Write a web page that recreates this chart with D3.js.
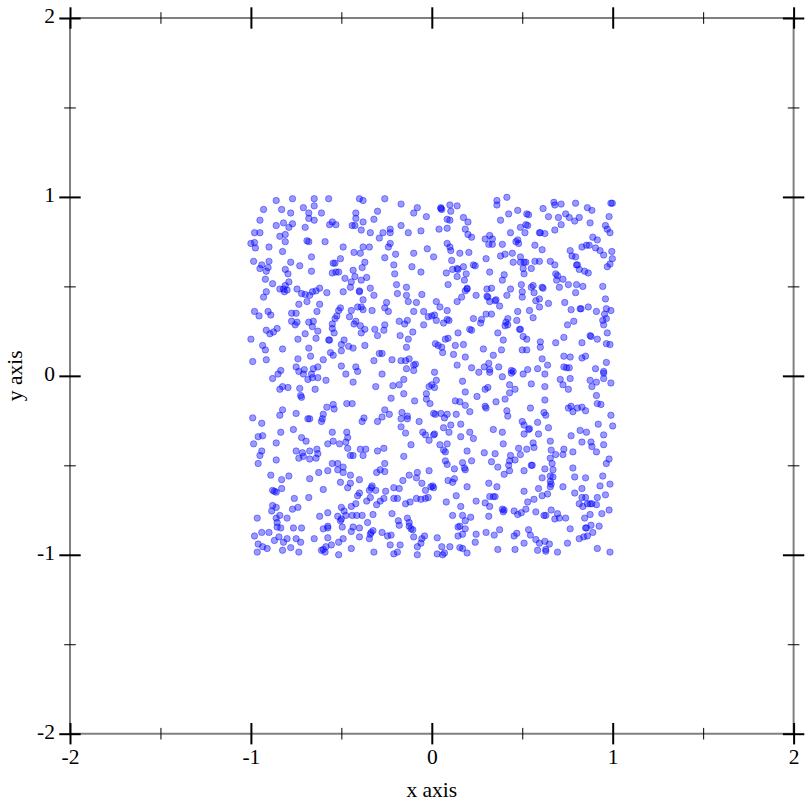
<!DOCTYPE html>
<html><head><meta charset="utf-8"><title>Scatter</title>
<script src="https://cdn.jsdelivr.net/npm/d3@7/dist/d3.min.js"></script>
<style>html,body{margin:0;padding:0;background:#fff}svg{display:block}</style></head>
<body><svg id="c" width="812" height="812"></svg>
<script>
const majorTicks=[-2,-1,0,1,2];
const minorTicks=[-1.5,-0.5,0.5,1.5];
const xLabel="x axis", yLabel="y axis";
const topLeft=[[-.86,.98],[-.77,.99],[-.65,.99],[-.57,.99],[-.4,.99],[-.38,.98],[-.26,.99],[-.65,.95],[-.17,.96],[-.93,.93],[-.83,.93],[-.78,.91],[-.71,.94],[-.68,.91],[-.61,.91],[-.42,.91],[-.3,.92],[-.08,.94],[-.1,.91],[-.03,.89],[-.68,.88],[-.65,.87],[-.42,.88],[-.38,.86],[-.32,.875],[-.95,.87],[-.86,.84],[-.82,.855],[-.79,.83],[-.77,.85],[-.7,.83],[-.565,.845],[-.55,.86],[-.53,.845],[-.44,.84],[-.425,.84],[-.39,.815],[-.17,.84],[-.98,.8],[-.95,.8],[-.81,.79],[-.84,.78],[-.34,.8],[-.27,.8],[-.23,.82],[-.23,.8],[-.13,.8],[-.06,.81],[-.29,.77],[-.81,.75],[-.69,.755],[-.68,.75],[-.59,.75],[-1,.74],[-.98,.745],[-.975,.715],[-.9,.72],[-.825,.695],[-.49,.72],[-.38,.72],[-.345,.72],[-.23,.74],[-.24,.72],[-.025,.71],[-.43,.69],[-.395,.685],[-.665,.665],[-.505,.655],[-.26,.66],[-.2,.68],[-.1,.685],[-.985,.64],[-.9,.64],[-.78,.635],[-.73,.615],[-.535,.63],[-.545,.63],[-.37,.635],[-.385,.605],[-.435,.59],[-.21,.62],[-.11,.61],[-.06,.58],[-.94,.62],[-.95,.6],[-.905,.605],[-.915,.585],[-.81,.595],[-.795,.57],[-.665,.585],[-.55,.575],[-.53,.58],[-.515,.58],[-.205,.57],[-.92,.54],[-.88,.515],[-.48,.545],[-.425,.555],[-.36,.55],[-.445,.525],[-.39,.535],[-.79,.525],[-.195,.51],[-.14,.495],[-.84,.485],[-.82,.485],[-.81,.505],[-.8,.48],[-.815,.47],[-.745,.485],[-.72,.46],[-.7,.455],[-.675,.45],[-.66,.47],[-.64,.475],[-.62,.49],[-.58,.465],[-.49,.47],[-.45,.495],[-.4,.475],[-.4,.47],[-.34,.49],[-.32,.45],[-.915,.47],[-.93,.44],[-.19,.46],[-.14,.45],[-.055,.455],[-.69,.415],[-.735,.4],[-.62,.4],[-.38,.425],[-.25,.41],[-.13,.415],[-.085,.41],[-.26,.38],[-.24,.36],[-.41,.385],[-.39,.385],[-.38,.37],[-.33,.365],[-.98,.36],[-.905,.36],[-.955,.335],[-.89,.34],[-.775,.35],[-.75,.35],[-.635,.36],[-.505,.38],[-.515,.365],[-.445,.365],[-.1,.36],[-.045,.36],[-.02,.33],[-.525,.335],[-.535,.32],[-.455,.33],[-.775,.305],[-.745,.3],[-.755,.285],[-.68,.3],[-.655,.305],[-.66,.275],[-.63,.25],[-.55,.29],[-.55,.265],[-.54,.24],[-.42,.305],[-.43,.29],[-.395,.28],[-.37,.26],[-.39,.24],[-.315,.26],[-.26,.285],[-.265,.255],[-.3,.225],[-.18,.305],[-.15,.29],[-.135,.31],[-.045,.285],[-.105,.245],[-.915,.255],[-.895,.235],[-.875,.245],[-.855,.265],[-.7,.235],[-.74,.205],[-.64,.21],[-1,.205],[-.57,.2],[-.565,.2],[-.485,.2],[-.5,.175],[-.175,.225],[-.13,.205],[-.935,.17],[-.92,.145],[-.825,.15],[-.68,.155],[-.46,.165],[-.435,.155],[-.37,.17],[-.5,.14],[-.14,.16],[-.29,.125],[-.275,.125],[-.56,.13],[-.545,.115],[-.67,.11],[-.74,.095],[-.6,.09],[-.99,.08],[-.915,.09],[-.32,.085],[-.22,.09],[-.17,.085],[-.145,.085],[-.125,.095],[-.09,.065],[-.1,.06],[-.5,.055],[-.75,.05],[-.835,.03],[-.85,.01],[-.735,.025],[-.705,.035],[-.655,.04],[-.63,.05],[-.42,.05],[-.41,.025],[-.475,.01],[-.275,.01],[-.14,.04],[-.1,.03],[-.71,.01],[-.665,.01]];
const topRight=[[.05,.94],[.055,.93],[.05,.935],[.1,.955],[.105,.92],[.14,.95],[.085,.875],[.1,.87],[.04,.82],[.085,.825],[.175,.885],[.2,.86],[.185,.82],[.2,.79],[.22,.775],[.36,.98],[.36,.955],[.415,.998],[.38,.87],[.425,.905],[.475,.925],[.525,.905],[.535,.9],[.615,.935],[.675,.97],[.68,.955],[.715,.96],[.795,.965],[.86,.94],[.885,.925],[.99,.965],[.998,.965],[.645,.89],[.7,.885],[.74,.905],[.76,.885],[.79,.865],[.815,.885],[.875,.855],[.98,.89],[.715,.845],[.68,.815],[.96,.84],[.97,.82],[.985,.8],[.49,.83],[.515,.8],[.53,.84],[.52,.845],[.435,.8],[.595,.8],[.6,.8],[.625,.795],[.32,.785],[.295,.765],[.335,.765],[.335,.735],[.315,.735],[.39,.735],[.475,.76],[.465,.75],[.48,.74],[.57,.73],[.61,.705],[.085,.74],[.1,.72],[.105,.7],[.155,.685],[.205,.69],[.01,.665],[.3,.655],[.38,.67],[.405,.68],[.445,.685],[.49,.665],[.765,.7],[.83,.72],[.855,.73],[.87,.73],[.89,.775],[.915,.76],[.905,.715],[.93,.7],[.95,.675],[.995,.695],[.998,.655],[.775,.67],[.795,.665],[.11,.645],[.45,.635],[.49,.635],[.51,.635],[.52,.635],[.505,.6],[.55,.6],[.57,.64],[.595,.64],[.655,.64],[.68,.62],[.8,.62],[.805,.62],[.815,.595],[.845,.585],[.865,.575],[.97,.61],[.985,.625],[.08,.575],[.115,.595],[.14,.6],[.145,.595],[.175,.61],[.23,.62],[.24,.615],[.32,.58],[.19,.57],[.14,.555],[.18,.535],[.4,.565],[.39,.535],[.51,.57],[.685,.57],[.695,.56],[.725,.54],[.69,.535],[.705,.495],[.755,.51],[.8,.51],[.835,.5],[.945,.5],[.795,.465],[.09,.51],[.195,.49],[.195,.485],[.185,.475],[.305,.485],[.33,.49],[.305,.445],[.31,.44],[.435,.485],[.415,.45],[.35,.42],[.355,.425],[.375,.39],[.495,.51],[.5,.47],[.5,.44],[.55,.495],[.56,.505],[.565,.465],[.61,.495],[.615,.49],[.595,.43],[.575,.42],[.595,.385],[.645,.405],[.025,.415],[.045,.385],[.085,.365],[.165,.44],[.14,.415],[.245,.45],[.32,.415],[.735,.41],[.77,.37],[.82,.375],[.825,.375],[.865,.385],[.91,.36],[.96,.43],[.965,.375],[.99,.365],[.955,.345],[.965,.32],[.945,.31],[.95,.285],[.015,.34],[.025,.31],[0,.335],[.065,.295],[.085,.315],[.095,.31],[.23,.32],[.275,.315],[.27,.295],[.3,.345],[.33,.345],[.42,.32],[.475,.36],[.54,.365],[.56,.325],[.47,.31],[.41,.3],[.42,.285],[.405,.28],[.485,.26],[.49,.26],[.75,.285],[.785,.305],[.145,.24],[.21,.26],[.22,.255],[.365,.24],[.395,.2],[.505,.22],[.525,.205],[.075,.205],[.09,.21],[.02,.18],[.035,.17],[.055,.16],[.06,.13],[.13,.17],[.175,.175],[.12,.12],[.185,.105],[.285,.15],[.385,.145],[.73,.215],[.685,.185],[.83,.185],[.875,.225],[.88,.22],[.915,.205],[.97,.24],[.965,.18],[.985,.175],[.6,.19],[.6,.16],[.5,.145],[.525,.145],[.34,.115],[.73,.11],[.765,.105],[.83,.1],[.85,.11],[.61,.095],[.965,.075],[.14,.06],[.22,.045],[.315,.07],[.29,.05],[.32,.035],[.37,.05],[.44,.03],[.45,.025],[.53,.035],[.585,.04],[.64,.06],[.73,.05],[.745,.045],[.76,.045],[.905,.04],[.95,.025],[.26,.02],[.32,.02],[.015,.02],[.44,.015],[.505,.01],[.625,.01],[.95,.015]];
const bottomLeft=[[-.88,-.015],[-.685,-.02],[-.66,-.01],[-.63,-.01],[-.585,-.025],[-.435,-.035],[-.31,-.06],[-.215,-.055],[-.18,-.05],[-.155,-.02],[-.84,-.075],[-.825,-.06],[-.795,-.065],[-.73,-.07],[-.645,-.075],[-.725,-.11],[-.72,-.12],[-.225,-.125],[-.155,-.1],[-.095,-.14],[-.03,-.1],[-.03,-.13],[-.015,-.06],[-.01,-.155],[-.47,-.155],[-.44,-.155],[-.58,-.175],[-.545,-.16],[-.54,-.185],[-.26,-.19],[-.825,-.19],[-.84,-.22],[-.75,-.21],[-.99,-.235],[-.94,-.265],[-.685,-.24],[-.675,-.24],[-.6,-.215],[-.605,-.24],[-.61,-.255],[-.375,-.235],[-.385,-.255],[-.3,-.255],[-.275,-.23],[-.235,-.215],[-.165,-.205],[-.17,-.24],[-.135,-.225],[-.135,-.24],[-.07,-.255],[-.17,-.285],[-.765,-.3],[-.835,-.315],[-.55,-.315],[-.47,-.315],[-.465,-.345],[-.145,-.32],[-.05,-.315],[-.035,-.33],[-.015,-.36],[-.96,-.34],[-.935,-.335],[-.985,-.38],[-.86,-.375],[-.72,-.345],[-.695,-.365],[-.575,-.38],[-.545,-.365],[-.51,-.38],[-.475,-.37],[-.115,-.385],[-.94,-.42],[-.95,-.445],[-.96,-.49],[-.86,-.47],[-.75,-.42],[-.715,-.43],[-.71,-.45],[-.735,-.46],[-.675,-.42],[-.635,-.41],[-.63,-.435],[-.64,-.46],[-.675,-.465],[-.465,-.405],[-.45,-.445],[-.435,-.445],[-.38,-.445],[-.395,-.41],[-.365,-.41],[-.3,-.42],[-.265,-.405],[-.155,-.45],[-.55,-.49],[-.52,-.49],[-.49,-.51],[-.52,-.525],[-.49,-.54],[-.575,-.53],[-.625,-.54],[-.26,-.49],[-.285,-.525],[-.26,-.535],[-.305,-.54],[-.45,-.555],[-.89,-.555],[-.79,-.56],[-.83,-.58],[-.675,-.575],[-.4,-.58],[-.505,-.595],[-.45,-.6],[-.125,-.555],[-.08,-.54],[-.085,-.57],[-.015,-.53],[-.16,-.585],[-.055,-.6],[-.465,-.625],[-.33,-.615],[-.31,-.64],[-.345,-.64],[-.335,-.625],[-.6,-.635],[-.83,-.63],[-.88,-.64],[-.87,-.645],[-.86,-.65],[-.21,-.625],[-.18,-.63],[-.255,-.645],[-.005,-.62],[-.035,-.64],[-.4,-.655],[-.41,-.67],[-.68,-.68],[-.76,-.685],[-.34,-.68],[-.36,-.7],[-.265,-.685],[-.285,-.7],[-.21,-.685],[-.19,-.685],[-.305,-.72],[-.085,-.685],[-.06,-.69],[-.035,-.685],[-.02,-.68],[-.12,-.705],[-.145,-.715],[-.42,-.715],[-.445,-.73],[-.74,-.735],[-.77,-.745],[-.88,-.725],[-.86,-.735],[-.885,-.755],[-.5,-.735],[-.485,-.755],[-.575,-.765],[-.62,-.785],[-.325,-.775],[-.22,-.77],[-.84,-.78],[-.86,-.795],[-.8,-.795],[-.965,-.795],[-.52,-.785],[-.5,-.8],[-.475,-.78],[-.44,-.78],[-.415,-.78],[-.385,-.78],[-.505,-.81],[-.355,-.82],[-.185,-.81],[-.18,-.835],[-.135,-.795],[-.125,-.82],[-.125,-.84],[-.855,-.82],[-.855,-.845],[-.835,-.85],[-.765,-.85],[-.72,-.85],[-.495,-.845],[-.575,-.84],[-.575,-.85],[-.6,-.855],[-.435,-.845],[-.4,-.85],[-.445,-.87],[-.325,-.865],[-.335,-.875],[-.275,-.875],[-.245,-.895],[-.225,-.89],[-.115,-.855],[-.105,-.86],[-.1,-.9],[-.98,-.895],[-.94,-.875],[-.9,-.875],[-.845,-.9],[-.87,-.92],[-.8,-.91],[-.82,-.93],[-.75,-.91],[-.725,-.93],[-.65,-.91],[-.575,-.905],[-.49,-.91],[-.515,-.93],[-.4,-.9],[-.34,-.885],[-.345,-.91],[-.04,-.895],[-.055,-.91],[-.06,-.935],[-.96,-.94],[-.935,-.955],[-.91,-.965],[-.965,-.985],[-.825,-.975],[-.78,-.96],[-.735,-.985],[-.555,-.945],[-.585,-.955],[-.6,-.97],[-.61,-.975],[-.59,-.985],[-.515,-1],[-.445,-.965],[-.32,-.985],[-.23,-.945],[-.175,-.945],[-.08,-.955],[-.21,-.995],[-.19,-.985],[-.08,-1]];
const bottomRight=[[.17,-.03],[.025,-.025],[.015,-.065],[0,-.05],[.185,-.09],[.295,-.075],[.31,-.065],[.25,-.115],[.39,-.005],[.43,-.05],[.46,-.075],[.43,-.095],[.55,-.045],[.625,-.06],[.71,-.02],[.765,-.015],[.725,-.05],[.755,-.075],[.875,-.025],[.91,-.035],[.885,-.06],[.95,-.015],[.99,-.04],[.405,-.13],[.355,-.145],[.625,-.135],[.91,-.11],[.915,-.155],[.935,-.16],[.13,-.14],[.155,-.145],[.185,-.165],[.295,-.17],[.3,-.18],[.415,-.195],[.42,-.225],[.545,-.18],[.755,-.18],[.77,-.17],[.78,-.2],[.805,-.18],[.83,-.175],[.85,-.195],[.21,-.2],[.62,-.205],[.63,-.22],[.99,-.22],[.01,-.21],[.02,-.215],[.05,-.21],[.07,-.235],[.085,-.215],[.135,-.215],[.585,-.26],[.5,-.255],[.51,-.275],[.535,-.3],[.54,-.295],[.645,-.29],[.92,-.27],[1,-.28],[.065,-.29],[.105,-.275],[.16,-.27],[.095,-.315],[.34,-.3],[.39,-.315],[.51,-.325],[.59,-.325],[.82,-.305],[.855,-.315],[.21,-.315],[.16,-.34],[.23,-.35],[.01,-.33],[.015,-.325],[.77,-.335],[.95,-.33],[.83,-.37],[.88,-.37],[.885,-.395],[.95,-.385],[.655,-.365],[.395,-.38],[.045,-.385],[.085,-.38],[.065,-.415],[.075,-.425],[.56,-.375],[.525,-.41],[.565,-.4],[.48,-.405],[.49,-.44],[.66,-.415],[.73,-.41],[.685,-.44],[.725,-.44],[.78,-.425],[.91,-.425],[.195,-.42],[.29,-.43],[.35,-.435],[.435,-.445],[.655,-.46],[.98,-.465],[.965,-.49],[.075,-.475],[.085,-.495],[.17,-.485],[.33,-.48],[.43,-.475],[.46,-.47],[.425,-.5],[.365,-.51],[.665,-.49],[.125,-.52],[.18,-.515],[.185,-.525],[.22,-.475],[.55,-.5],[.555,-.5],[.51,-.53],[.625,-.52],[.67,-.525],[.43,-.53],[.4,-.55],[.78,-.515],[.67,-.565],[.655,-.56],[.61,-.57],[.79,-.565],[.85,-.57],[.945,-.56],[.09,-.585],[.125,-.575],[.115,-.595],[.315,-.6],[.36,-.62],[.655,-.59],[.66,-.605],[.655,-.62],[.93,-.615],[.985,-.605],[.195,-.62],[.005,-.615],[.01,-.625],[.725,-.62],[.59,-.63],[.83,-.63],[.51,-.645],[.64,-.66],[.61,-.67],[.79,-.655],[.96,-.665],[.135,-.67],[.32,-.675],[.35,-.675],[.34,-.675],[.83,-.68],[.85,-.68],[.915,-.68],[.565,-.69],[.53,-.705],[.08,-.705],[.245,-.7],[.295,-.71],[.32,-.73],[.16,-.73],[.815,-.715],[.835,-.73],[.86,-.715],[.875,-.715],[.885,-.715],[.91,-.72],[.39,-.745],[.4,-.75],[.395,-.76],[.52,-.745],[.495,-.765],[.455,-.755],[.475,-.775],[.575,-.76],[.315,-.785],[.115,-.78],[.17,-.78],[.215,-.79],[.62,-.78],[.63,-.78],[.66,-.75],[.695,-.77],[.68,-.8],[.705,-.795],[.74,-.795],[.875,-.775],[.845,-.795],[.94,-.77],[.98,-.75],[.185,-.81],[.145,-.845],[.155,-.84],[.185,-.855],[.17,-.885],[.145,-.895],[.245,-.885],[.3,-.875],[.345,-.89],[.375,-.86],[.47,-.88],[.455,-.895],[.535,-.86],[.545,-.89],[.765,-.855],[.855,-.85],[.85,-.85],[.88,-.835],[.925,-.84],[.89,-.875],[.86,-.895],[.84,-.9],[.815,-.91],[.03,-.905],[.24,-.93],[.575,-.915],[.51,-.935],[.625,-.925],[.595,-.935],[.65,-.94],[.75,-.935],[.055,-.955],[.1,-.955],[.155,-.96],[.17,-.965],[.365,-.97],[.46,-.97],[.585,-.975],[.63,-.97],[.63,-.98],[.695,-.985],[.915,-.965],[.985,-.985],[.03,-.995],[.06,-1],[.07,-.99],[.195,-.99]];

const points=[...topLeft,...topRight,...bottomLeft,...bottomRight];
const xMin=70,xMax=793.6,yMin=18,yMax=733.7;
const x=d3.scaleLinear().domain([-2,2]).range([xMin,xMax]);
const y=d3.scaleLinear().domain([-2,2]).range([yMax,yMin]);
const svg=d3.select("#c");
const font='"Liberation Serif","Times New Roman",serif';
const fontSize=21.5;
const frame=svg.append("g");
const GREY="#808080";

// Draws one side's axis: major and minor ticks straddling the frame line.
function side(gen,tx,ty,labelled,horizontal){
  const build=(values,half,width,fmt)=>{
    const g=frame.append("g").attr("transform",`translate(${tx},${ty})`)
      .call(gen.tickValues(values).tickSize(half*2).tickPadding(3).tickFormat(fmt));
    g.select(".domain").remove();
    g.selectAll(".tick line").attr("stroke","#000").attr("stroke-width",width)
      .attr(horizontal?"y1":"x1",-half).attr(horizontal?"y2":"x2",half);
    return g;
  };
  build(minorTicks,5.8,1,()=>"");
  const m=build(majorTicks,10.7,2,labelled?d3.format("d"):()=>"");
  m.selectAll(".tick text").attr("font-family",font).attr("font-size",fontSize).attr("fill","#000");
  if(labelled){
    m.selectAll(".tick text").text(d=>String(d));
    if(horizontal) m.selectAll(".tick text").attr("y",30.6).attr("dy",null);
    else m.selectAll(".tick text").attr("x",-15).attr("dy","0.22em");
  }
}
[[xMin,yMin,xMax,yMin],[xMin,yMax,xMax,yMax],[xMin,yMin,xMin,yMax],[xMax,yMin,xMax,yMax]].forEach(l=>{
  frame.append("line").attr("x1",l[0]).attr("y1",l[1]).attr("x2",l[2]).attr("y2",l[3]).attr("stroke",GREY).attr("stroke-width",2);
});
side(d3.axisTop(x),0,yMin,false,true);
side(d3.axisRight(y),xMax,0,false,false);
side(d3.axisBottom(x),0,yMax,true,true);
side(d3.axisLeft(y),xMin,0,true,false);

svg.append("g").selectAll("circle").data(points).join("circle")
  .attr("cx",d=>x(d[0])).attr("cy",d=>y(d[1])).attr("r",3.2)
  .attr("fill","#0000ff").attr("fill-opacity",.4)
  .attr("stroke","#0000ff").attr("stroke-opacity",.4).attr("stroke-width",1);

svg.append("text").attr("x",(xMin+xMax)/2).attr("y",797.3).attr("text-anchor","middle")
  .attr("font-family",font).attr("font-size",fontSize).text(xLabel);
svg.append("text").attr("transform",`translate(21.7,${(yMin+yMax)/2}) rotate(-90)`).attr("text-anchor","middle")
  .attr("font-family",font).attr("font-size",fontSize).text(yLabel);
</script></body></html>
